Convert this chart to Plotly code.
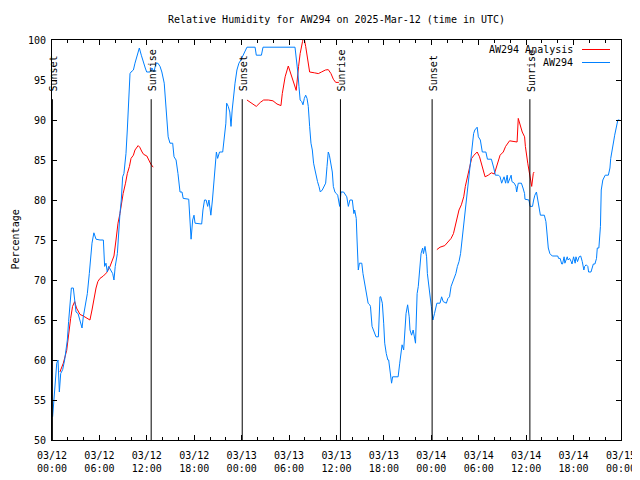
import plotly.graph_objects as go

# ---------------- data (hours since 03/12 00:00 UTC) ----------------
obs_hours = [0.08,0.25,0.42,0.6,0.76,0.93,1.1,1.35,1.6,1.77,1.94,2.1,2.28,2.45,2.7,2.87,3.04,3.3,3.54,3.8,3.96,4.2,4.47,4.72,4.9,5.06,5.3,5.57,6.07,6.5,6.66,6.83,7.0,7.17,7.42,7.68,7.84,8.0,8.27,8.44,8.6,8.77,8.94,9.1,9.36,9.53,9.7,9.87,10.0,10.3,10.5,10.8,11.05,11.3,11.56,11.8,11.98,12.4,12.65,12.9,13.16,13.4,13.67,13.9,14.2,14.42,14.7,14.93,15.27,15.44,15.7,15.94,16.2,16.45,16.6,17.3,17.38,17.55,17.6,17.8,17.97,18.1,18.94,19.1,19.3,19.5,19.7,19.86,20.1,20.3,20.45,20.6,20.8,20.96,21.2,21.6,21.8,22.0,22.1,22.3,22.5,22.65,22.8,23.0,23.16,23.4,23.65,23.9,24.16,24.42,24.67,25.7,25.85,26.5,26.7,30.75,30.9,31.1,31.25,31.4,31.6,31.76,31.93,32.1,32.27,32.43,32.6,32.77,32.94,33.1,33.28,33.44,33.6,33.78,33.95,34.2,34.46,34.63,34.8,34.96,35.1,35.3,35.47,35.6,35.8,35.98,36.15,36.4,36.57,36.9,37.3,37.5,37.7,38.0,38.2,38.3,38.5,38.6,38.7,38.76,38.9,39.2,39.35,39.5,39.7,39.8,40.0,40.2,40.3,40.5,40.7,40.9,41.0,41.3,41.5,41.6,41.8,41.97,42.1,42.3,42.5,42.6,42.8,42.97,43.1,43.8,44.0,44.2,44.3,44.5,44.7,44.8,45.0,45.2,45.3,45.5,45.7,45.85,46.0,46.2,46.35,46.5,46.7,46.9,47.0,47.2,47.4,47.5,47.7,47.9,48.0,48.2,48.4,48.5,48.7,49.1,49.3,49.5,49.9,50.1,50.3,50.5,50.8,51.1,51.3,51.5,51.7,51.8,52.0,52.2,52.3,52.5,52.7,52.85,53.0,53.2,53.35,53.5,53.8,53.95,54.2,54.45,54.9,55.1,55.6,55.9,56.1,56.5,56.7,56.9,57.1,57.2,57.4,57.6,57.7,57.9,58.1,58.2,58.5,58.7,58.8,59.0,59.4,59.6,59.8,59.85,60.35,60.5,60.8,60.95,61.1,61.3,61.5,61.6,61.8,62.3,62.5,62.6,62.8,63.0,63.3,64.0,64.1,64.3,64.5,64.6,64.8,64.9,65.2,65.3,65.5,65.7,65.8,66.0,66.2,66.3,66.5,66.7,66.9,67.1,67.3,67.4,67.6,67.8,67.9,68.2,68.4,68.5,68.7,68.9,69.0,69.2,69.4,69.5,69.7,70.0,70.4,70.6,70.7,70.9,71.1,71.2,71.4,71.6,71.8]
obs_rh = [52.9,55,57.1,59.6,60,56,58.3,58.8,60,61.25,62.5,64.8,67.1,69,69,67.3,66,65.8,64.8,64,65.4,66.7,68.3,70.8,73.1,74.6,75.9,75.1,75,75,71.7,72.1,71,71.7,71.25,70.8,70,71.7,73.3,76.7,78.3,80,82.9,83.3,85.8,88.75,92.3,95.8,96,96.25,97.1,98.1,99,98.1,97.1,96.5,96,96,96.5,96,97.1,97.1,96.7,96,94.6,91.25,87.9,87.1,87.1,85.4,85,83.3,81,81,80.2,80.1,78.3,75.8,75.1,77.5,78.1,77.1,77,78.75,80,80,79.2,80,78.1,80,81.7,84.2,86,85.2,86,86,87.5,89.6,92.1,91.7,91,89.2,91.25,93.3,94.6,96.25,97.1,97.5,98.1,98.75,99.1,99.1,98.1,98.1,99.1,99.1,97.9,96,94.2,92.5,92.3,91.9,92.7,93.1,92.7,91.7,89.2,87.1,86.25,84.6,83.75,82.9,82.3,81.7,81,81.25,81.9,82.1,84.2,86,85.6,84.4,83.5,81.7,81,80.8,80.6,79.2,81,81,80.4,79.2,80,80,78.3,78.75,77.7,75,72.5,71.25,72.1,72.1,70.8,69.8,68.5,67.9,67.1,66.9,66.7,64.2,63.75,63.3,62.9,62.9,67.9,67.9,67.1,64.6,62.1,60.8,60,60,58.3,57.1,57.9,57.9,59.6,61.25,61.9,61.25,64.6,65.8,66.9,65.4,63.75,63.1,63.75,63.1,62.1,68.3,69.2,71,73.3,74,73.3,74.2,72.9,70.8,68.75,67.5,66.7,65,65.8,66.25,67.1,67.1,67.9,67.3,67.1,67.7,67.9,69.2,70,70.8,71.7,72.3,73.3,74.2,75.8,77.5,79.2,80.8,82.5,84.2,85.4,86.7,88.3,88.75,89.1,87.9,87.5,86,86,85.1,85.1,84,83.1,83.1,82.9,82.1,82.5,82.9,82.1,83.1,82.1,82.5,83.1,82.3,82.1,81.7,81,82.1,82.1,81.5,80.8,80.1,80,79.2,79.2,80,80.6,81,80,79.2,78.1,78.1,77.3,76.25,74,73.3,73,73,72.7,72.7,72,72,72.9,72.1,72.9,72.5,72.7,72.3,72,72.9,72.1,72.9,72.3,72.9,73,72.3,71.25,71.7,71.9,71.7,71,71,71.7,72,72,72.7,74,74,76.7,81.25,82.5,83.1,83.1,84,85.2,86.7,87.5,88.1,89,90,90]

ana_hours = [1.0,1.43,1.86,2.1,2.36,2.6,2.87,3.1,3.54,3.96,4.4,4.8,5.06,5.3,5.57,5.8,6.07,6.5,6.9,7.3,7.6,7.84,8.1,8.35,8.6,8.77,9.0,9.3,9.53,9.8,10.0,10.3,10.5,10.9,11.1,11.4,11.6,12.0,12.2,12.5,12.8,
             None,
             24.67,25.26,25.85,26.36,26.78,27.37,27.96,28.47,28.97,29.14,29.5,29.9,30.24,30.6,30.9,31.2,31.4,31.7,31.85,32.1,32.35,32.6,33.2,33.7,34.1,34.6,34.96,35.3,35.6,35.9,36.3,
             None,
             48.7,49.1,49.7,50.1,50.5,50.8,51.2,51.5,51.8,52.1,52.3,52.6,52.85,53.1,53.4,53.8,54.1,54.4,54.8,55.2,55.6,55.97,56.3,56.7,57.1,57.4,57.9,58.5,58.85,59.0,59.3,59.5,59.8,59.9,60.2,60.35,60.5,60.7,60.9,61.0]
ana_rh = [58.5,59.6,61.2,63.3,65.2,66.7,67.3,66.5,65.7,65.5,65.2,65.0,66.25,67.6,69.0,69.8,70.2,70.5,70.9,71.6,72.4,73.0,75.0,77.1,78.3,79.4,80.8,82.1,83.3,84.2,85.2,85.6,86.25,86.8,86.6,86.0,85.7,85.5,85.0,84.5,84.1,
          None,
          92.5,92.1,91.7,92.2,92.5,92.5,92.4,92.0,91.8,93.3,95.4,96.75,95.8,94.6,93.7,96.7,98.3,99.8,100.5,99.2,97.5,96.0,95.9,95.8,96.0,96.25,96.3,95.8,95.1,94.7,94.7,
          None,
          73.8,74.1,74.3,74.8,75.2,75.8,77.3,78.75,79.4,80.4,81.7,83.1,84.2,85.2,85.6,86.0,85.4,84.2,82.9,83.1,83.4,83.25,84.2,85.6,86.0,86.7,87.4,87.25,87.25,90.2,89.25,88.5,87.9,86.7,84.6,83.75,82.9,81.7,83.3,83.5]

sun_events = ["Sunset", "Sunrise", "Sunset", "Sunrise", "Sunset", "Sunrise"]
sun_hours = [0.05, 12.55, 24.07, 36.5, 48.1, 60.47]
sun_line_top = 92.6

tick_hours = [0, 6, 12, 18, 24, 30, 36, 42, 48, 54, 60, 66, 72]
tick_labels = ["03/12<br>00:00", "03/12<br>06:00", "03/12<br>12:00", "03/12<br>18:00",
               "03/13<br>00:00", "03/13<br>06:00", "03/13<br>12:00", "03/13<br>18:00",
               "03/14<br>00:00", "03/14<br>06:00", "03/14<br>12:00", "03/14<br>18:00",
               "03/15<br>00:00"]
y_ticks = [50, 55, 60, 65, 70, 75, 80, 85, 90, 95, 100]

series_names = ["AW294 Analysis", "AW294"]
RED = "#ff0000"
BLUE = "#0080ff"
FONT = "DejaVu Sans Mono"

# page body has an 8px margin: compensate so the plot box sits at 52..621 x 40..440
W, H = 632, 472
ML, MR, MT, MB = 44, 19, 32, 40
PW = W - ML - MR  # 569

fig = go.Figure()
fig.add_trace(go.Scatter(x=ana_hours, y=ana_rh, mode="lines", name=series_names[0],
                         line=dict(color=RED, width=1), connectgaps=False, showlegend=False))
fig.add_trace(go.Scatter(x=obs_hours, y=obs_rh, mode="lines", name=series_names[1],
                         line=dict(color=BLUE, width=1), showlegend=False))

for ev, h in zip(sun_events, sun_hours):
    fig.add_shape(type="line", xref="x", yref="y", x0=h, x1=h, y0=50, y1=sun_line_top,
                  line=dict(color="black", width=1))
    fig.add_annotation(x=h, y=93.3, xref="x", yref="y", text=ev, textangle=-90,
                       showarrow=False, xanchor="center", yanchor="bottom", xshift=1.5,
                       font=dict(family=FONT, size=10, color="black"))

# legend (gnuplot style: text left, sample right)
for i, (nm, col) in enumerate(zip(series_names, [RED, BLUE])):
    ypx = 49.5 + 13 * i
    yp = 1 - (ypx - 40) / 400
    fig.add_annotation(x=(575 - 52) / PW, y=yp, xref="paper", yref="paper", text=nm,
                       showarrow=False, xanchor="right", yanchor="middle",
                       font=dict(family=FONT, size=10, color="black"))
    fig.add_shape(type="line", xref="paper", yref="paper",
                  x0=(582 - 52) / PW, x1=(610 - 52) / PW, y0=yp, y1=yp,
                  line=dict(color=col, width=1))

fig.add_annotation(x=-37.5 / PW, y=0.5, xref="paper", yref="paper", text="Percentage",
                   textangle=-90, showarrow=False, xanchor="center", yanchor="middle",
                   font=dict(family=FONT, size=10, color="black"))

fig.update_layout(
    width=W, height=H,
    margin=dict(l=ML, r=MR, t=MT, b=MB, autoexpand=False),
    paper_bgcolor="white", plot_bgcolor="white",
    font=dict(family=FONT, size=10, color="black"),
    title=dict(text="Relative Humidity for AW294 on 2025-Mar-12 (time in UTC)",
               x=0.5, xref="paper", y=1 - 11 / H, yanchor="middle",
               font=dict(family=FONT, size=10, color="black")),
    showlegend=False,
)
fig.update_xaxes(range=[0, 72], tickmode="array", tickvals=tick_hours, ticktext=tick_labels,
                 ticks="inside", ticklen=5, tickcolor="black", showline=True, linecolor="black",
                 linewidth=1, mirror="ticks", showgrid=False, zeroline=False,
                 ticklabelstandoff=6, automargin=False,
                 minor=dict(ticks="inside", ticklen=3, dtick=2, tick0=0, tickcolor="black", showgrid=False),
                 tickfont=dict(family=FONT, size=10, color="black"))
fig.update_yaxes(range=[50, 100], tickmode="array", tickvals=y_ticks,
                 ticks="inside", ticklen=5, tickcolor="black", showline=True, linecolor="black",
                 linewidth=1, mirror="ticks", showgrid=False, zeroline=False,
                 ticklabelstandoff=3, automargin=False,
                 tickfont=dict(family=FONT, size=10, color="black"))

fig.write_html("out.html")
